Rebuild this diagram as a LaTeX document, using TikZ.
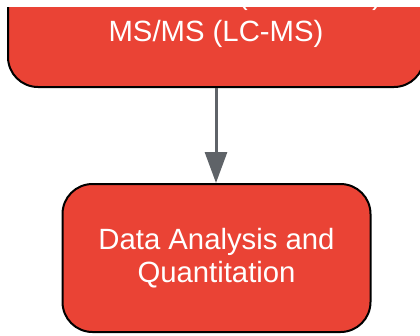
\documentclass[tikz,border=0pt]{standalone}
\usepackage{fontspec}
\setmainfont{Liberation Sans}
\usetikzlibrary{arrows.meta}
\definecolor{boxred}{HTML}{EA4335}
\definecolor{arrowgray}{HTML}{5F6368}
\tikzset{
  redbox/.style={draw=black, line width=2pt, fill=boxred, rounded corners=30pt, inner sep=0pt},
  boxtext/.style={text=white, font=\fontsize{29.3}{33.5}\selectfont},
  txt/.style={boxtext, anchor=base, inner sep=0pt},
  flow/.style={draw=arrowgray, line width=3pt, -{Triangle[length=31pt,width=22pt]}},
}
\begin{document}
\begin{tikzpicture}[x=1pt,y=-1pt]
\useasboundingbox (0,0) rectangle (420,335);
\begin{scope}
  \clip (0,7.5) rectangle (420,335);
  \node[redbox, minimum width=416pt, minimum height=120pt] (lcms) at (216,27) {};
  \node[txt] (popen) at (243,4.5) {(};
  \node[txt] (pclose) at (377,4.5) {)};
  \node[txt] (lcmstext) at (216,41) {MS/MS (LC-MS)};
\end{scope}
\node[redbox, boxtext, align=center, minimum width=308pt, minimum height=148pt] (quant) at (216.5,258) {Data Analysis and\\Quantitation};
\draw[flow] (lcms.south) -- (lcms.south |- quant.north);
\end{tikzpicture}
\end{document}
